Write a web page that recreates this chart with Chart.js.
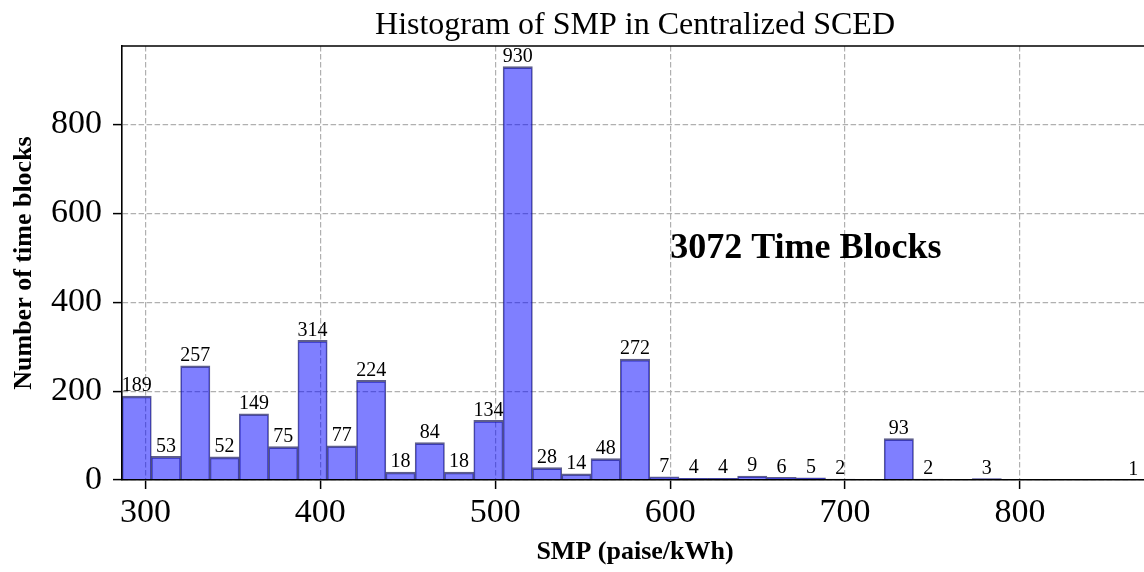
<!DOCTYPE html>
<html>
<head>
<meta charset="utf-8">
<script src="https://cdn.jsdelivr.net/npm/chart.js@4.4.1/dist/chart.umd.min.js"></script>
<style>
  html, body { margin: 0; padding: 0; background: #fff; overflow: hidden; }
  #wrap { width: 1160px; height: 572px; }
</style>
</head>
<body>
<div id="wrap"><canvas id="myChart" width="1160" height="572"></canvas></div>
<script>
// histogram: 35 equal bins between min and max SMP
var binMin = 286.6;
var binMax = 873.2;
var counts = [189, 53, 257, 52, 149, 75, 314, 77, 224, 18, 84, 18, 134, 930, 28, 14, 48, 272,
              7, 4, 4, 9, 6, 5, 2, 0, 93, 2, 0, 3, 0, 0, 0, 0, 1];
var xTicks = [300, 400, 500, 600, 700, 800];
var yTicks = [0, 200, 400, 600, 800];
var yMax = 976.5;
var note = { text: "3072 Time Blocks", x: 600, y: 500 };

var serif = '"Liberation Serif", "Times New Roman", serif';
var binWidth = (binMax - binMin) / counts.length;
var points = counts.map(function (c, i) {
    return { x: binMin + (i + 0.5) * binWidth, y: c };
});

// labels over bars, frame, annotation and title
var extras = {
    id: 'extras',
    afterDatasetsDraw: function (chart) {
        var ctx = chart.ctx;
        var area = chart.chartArea;
        var meta = chart.getDatasetMeta(0);
        ctx.save();
        ctx.fillStyle = '#000';
        ctx.font = '20px ' + serif;
        ctx.textAlign = 'center';
        ctx.textBaseline = 'bottom';
        meta.data.forEach(function (bar, i) {
            if (counts[i] > 0) ctx.fillText(String(counts[i]), bar.x, bar.y);
        });

        ctx.strokeStyle = '#000';
        ctx.lineWidth = 1.6;
        ctx.beginPath();
        ctx.moveTo(area.left, area.top);
        ctx.lineTo(area.right, area.top);
        ctx.lineTo(area.right, area.bottom);
        ctx.stroke();

        ctx.font = 'bold 36px ' + serif;
        ctx.textAlign = 'left';
        ctx.textBaseline = 'alphabetic';
        ctx.fillText(note.text, chart.scales.x.getPixelForValue(note.x), chart.scales.y.getPixelForValue(note.y));

        ctx.font = '32px ' + serif;
        ctx.textAlign = 'center';
        ctx.fillText('Histogram of SMP in Centralized SCED', (area.left + area.right) / 2, 34);
        ctx.restore();
    }
};

var gridOpts = {
    offset: false,
    color: '#b0b0b0',
    lineWidth: 1.2,
    tickColor: '#000',
    tickWidth: 1.5,
    tickLength: 9,
    tickBorderDash: []
};

var ctx = document.getElementById('myChart').getContext('2d');
new Chart(ctx, {
    type: 'bar',
    data: {
        datasets: [{
            data: points,
            backgroundColor: 'rgba(0, 0, 255, 0.5)',
            borderColor: 'rgba(40, 40, 100, 0.75)',
            borderWidth: { top: 2, left: 1, right: 1, bottom: 0 },
            borderSkipped: 'start',
            barPercentage: 1,
            categoryPercentage: 1
        }]
    },
    options: {
        responsive: false,
        animation: false,
        devicePixelRatio: 1,
        layout: { padding: { top: 46, right: 12, left: 0, bottom: 0 } },
        plugins: {
            legend: { display: false },
            tooltip: { enabled: false }
        },
        scales: {
            x: {
                type: 'linear',
                min: binMin,
                max: binMax,
                offset: false,
                afterFit: function (s) { s.height = 92; },
                afterBuildTicks: function (s) { s.ticks = xTicks.map(function (v) { return { value: v }; }); },
                grid: gridOpts,
                border: { color: '#000', width: 1.6, dash: [5.5, 2.5], z: 1 },
                ticks: { color: '#000', font: { family: serif, size: 34 }, padding: 4, maxRotation: 0, autoSkip: false },
                title: {
                    display: true,
                    text: 'SMP (paise/kWh)',
                    color: '#000',
                    font: { family: serif, size: 26, weight: 'bold' },
                    padding: { top: 0, bottom: 4 }
                }
            },
            y: {
                min: 0,
                max: yMax,
                afterFit: function (s) { s.width = 122; },
                afterBuildTicks: function (s) { s.ticks = yTicks.map(function (v) { return { value: v }; }); },
                grid: gridOpts,
                border: { color: '#000', width: 1.6, dash: [5.5, 2.5], z: 1 },
                ticks: { color: '#000', font: { family: serif, size: 34 }, padding: 11 },
                title: {
                    display: true,
                    text: 'Number of time blocks',
                    color: '#000',
                    font: { family: serif, size: 26, weight: 'bold' },
                    padding: { top: 9, bottom: 0 }
                }
            }
        }
    },
    plugins: [extras]
});
</script>
</body>
</html>
